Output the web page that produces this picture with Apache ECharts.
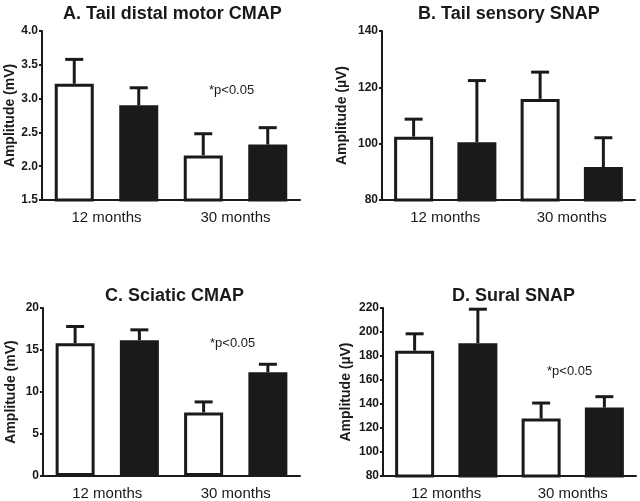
<!DOCTYPE html>
<html>
<head>
<meta charset="utf-8">
<script src="https://cdn.jsdelivr.net/npm/echarts@6/dist/echarts.min.js"></script>
<style>
  html, body { margin: 0; padding: 0; background: #fff; }
  #chart { width: 640px; height: 501px; }
</style>
</head>
<body>
<div id="chart"></div>
<script>
// data
var groups = ['12 months', '30 months'];
var slots = ['12w', '12b', '30w', '30b'];

var titles = ['A. Tail distal motor CMAP', 'B. Tail sensory SNAP', 'C. Sciatic CMAP', 'D. Sural SNAP'];
var yNames = ['Amplitude (mV)', 'Amplitude (\u00b5V)', 'Amplitude (mV)', 'Amplitude (\u00b5V)'];

var whiteA = [3.22, 2.16], whiteErrA = [0.36, 0.32];
var blackA = [2.90, 2.32], blackErrA = [0.26, 0.25];
var whiteB = [102.5, 115.9], whiteErrB = [6.2, 9.5];
var blackB = [100.5, 91.7], blackErrB = [21.9, 10.4];
var whiteC = [15.8, 7.57], whiteErrC = [2.0, 1.25];
var blackC = [16.15, 12.35], blackErrC = [1.25, 0.95];
var whiteD = [184.4, 127.9], whiteErrD = [14.1, 12.9];
var blackD = [190.7, 137.0], blackErrD = [28.3, 9.1];

var yMin = [1.5, 80, 0, 80];
var yMax = [4.0, 140, 20, 220];
var yStep = [0.5, 20, 5, 20];

var panels = [
  { w: whiteA, we: whiteErrA, b: blackA, be: blackErrA },
  { w: whiteB, we: whiteErrB, b: blackB, be: blackErrB },
  { w: whiteC, we: whiteErrC, b: blackC, be: blackErrC },
  { w: whiteD, we: whiteErrD, b: blackD, be: blackErrD }
];

var grids = [
  { left: 42, top: 31, width: 258, height: 169 },
  { left: 382, top: 31, width: 253, height: 169 },
  { left: 43, top: 308, width: 257, height: 170 },
  { left: 383, top: 308, width: 253, height: 170 }
];
var titlePos = [[58, 0], [413, 0], [100, 282], [447, 282]];
var nameGaps = [22, 33, 25, 30];

var font = 'Liberation Sans, Arial, sans-serif';
var chart = echarts.init(document.getElementById('chart'));

var option = {
  backgroundColor: '#fff',
  animation: false,
  title: [],
  grid: grids,
  xAxis: [],
  yAxis: [],
  series: [],
  graphic: []
};

function errBar(params, api) {
  var x = api.value(0);
  var base = api.coord([x, api.value(1)]);
  var top = api.coord([x, api.value(1) + api.value(2)]);
  var style = { stroke: '#1a1a1a', lineWidth: 3 };
  return {
    type: 'group',
    children: [
      { type: 'line', shape: { x1: base[0], y1: base[1], x2: top[0], y2: top[1] }, style: style },
      { type: 'line', shape: { x1: top[0] - 9, y1: top[1], x2: top[0] + 9, y2: top[1] }, style: style }
    ]
  };
}

for (var i = 0; i < 4; i++) {
  var p = panels[i];
  option.title.push({
    text: titles[i], left: titlePos[i][0], top: titlePos[i][1],
    textStyle: { fontFamily: font, fontSize: 18, fontWeight: 'bold', color: '#1a1a1a' }
  });
  option.xAxis.push({
    type: 'category', gridIndex: i, data: slots,
    axisLine: { lineStyle: { color: '#1a1a1a', width: 2 } },
    axisTick: { alignWithLabel: true, length: 5, lineStyle: { color: '#1a1a1a', width: 2 } },
    axisLabel: { show: false }
  });
  option.xAxis.push({
    type: 'category', gridIndex: i, data: groups, position: 'bottom',
    axisLine: { show: false }, axisTick: { show: false },
    axisLabel: { margin: 10, fontFamily: font, fontSize: 15, color: '#1a1a1a' }
  });
  option.yAxis.push({
    type: 'value', gridIndex: i, min: yMin[i], max: yMax[i], interval: yStep[i],
    name: yNames[i], nameLocation: 'middle', nameGap: nameGaps[i],
    nameTextStyle: { fontFamily: font, fontSize: 14, fontWeight: 'bold', color: '#1a1a1a' },
    splitLine: { show: false },
    axisLine: { show: true, lineStyle: { color: '#1a1a1a', width: 2 } },
    axisTick: { show: true, length: 3, lineStyle: { color: '#1a1a1a', width: 2 } },
    axisLabel: {
      margin: 4, fontFamily: font, fontSize: 12, fontWeight: 'bold', color: '#1a1a1a',
      formatter: (function (k) { return function (v) { return k === 0 ? v.toFixed(1) : String(v); }; })(i)
    }
  });
  var wData = [], bData = [], eData = [];
  for (var g = 0; g < groups.length; g++) {
    wData.push([g * 2, p.w[g]]);
    bData.push([g * 2 + 1, p.b[g]]);
    eData.push([g * 2, p.w[g], p.we[g]]);
    eData.push([g * 2 + 1, p.b[g], p.be[g]]);
  }
  option.series.push({
    type: 'bar', xAxisIndex: i * 2, yAxisIndex: i, data: wData,
    barWidth: 39, barGap: '-100%',
    itemStyle: { color: '#fff', borderColor: '#1a1a1a', borderWidth: 3 }
  });
  option.series.push({
    type: 'bar', xAxisIndex: i * 2, yAxisIndex: i, data: bData,
    barWidth: 39, barGap: '-100%',
    itemStyle: { color: '#1a1a1a', borderColor: '#1a1a1a', borderWidth: 3 }
  });
  option.series.push({
    type: 'custom', xAxisIndex: i * 2, yAxisIndex: i, data: eData,
    renderItem: errBar, z: 1
  });
}

var notes = [[209, 84], [210, 337], [547, 365]];
for (var n = 0; n < notes.length; n++) {
  option.graphic.push({
    type: 'text', left: notes[n][0], top: notes[n][1],
    style: { text: '*p<0.05', font: '13px ' + font, fill: '#1a1a1a' }
  });
}

chart.setOption(option);
</script>
</body>
</html>
